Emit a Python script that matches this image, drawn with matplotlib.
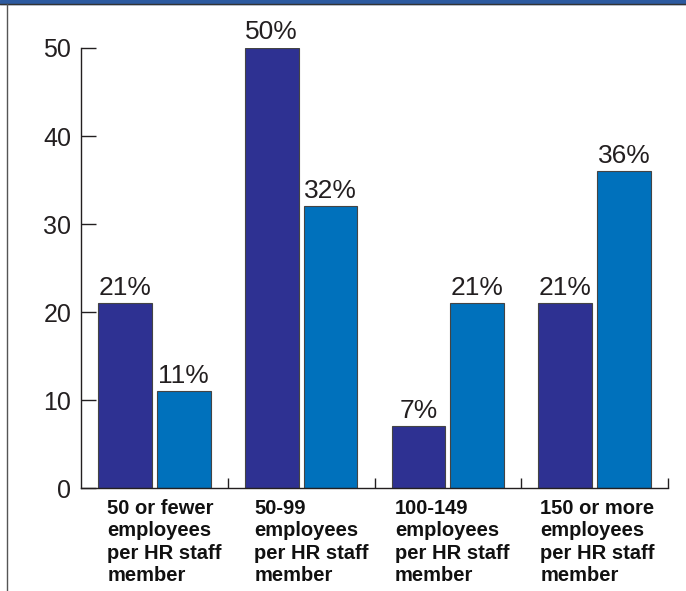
import numpy as np
import matplotlib.pyplot as plt
import matplotlib.transforms as mtransforms
from matplotlib.patches import Rectangle
from matplotlib.lines import Line2D

groups = ['50 or fewer\nemployees\nper HR staff\nmember',
          '50-99\nemployees\nper HR staff\nmember',
          '100-149\nemployees\nper HR staff\nmember',
          '150 or more\nemployees\nper HR staff\nmember']
series_a = [21, 50, 7, 21]     # dark bars
series_b = [11, 32, 21, 36]    # light bars
yticks = [0, 10, 20, 30, 40, 50]

plt.rcParams['font.family'] = ['Liberation Sans', 'DejaVu Sans']

fig = plt.figure(figsize=(6.86, 5.91), dpi=100)
ax = fig.add_axes([81/686, 1-488/591, (668-81)/686, (488-48)/591])

x = np.arange(len(groups))
w = 0.365
b1 = ax.bar(x - 0.2, series_a, w, color='#2E3192', edgecolor='#444444', linewidth=0.8)
b2 = ax.bar(x + 0.2, series_b, w, color='#0071BC', edgecolor='#444444', linewidth=0.8)

for bars, vals in ((b1, series_a), (b2, series_b)):
    for r, v in zip(bars, vals):
        ax.text(r.get_x() + r.get_width()/2, v + 0.4, f'{v}%', ha='center', va='bottom',
                fontsize=19, color='#231f20', clip_on=False)

ax.set_xlim(-0.5, 3.5)
ax.set_ylim(0, 50)
ax.set_yticks(yticks)
ax.tick_params(axis='y', direction='in', length=10.5, width=1, pad=7, labelsize=18,
               labelcolor='#231f20', color='#231f20')
ax.set_xticks(list(x + 0.5))
ax.set_xticklabels([])
ax.tick_params(axis='x', direction='in', length=7, width=1, color='#231f20')
for s in ['top', 'right']:
    ax.spines[s].set_visible(False)
for s in ['left', 'bottom']:
    ax.spines[s].set_color('#231f20')
    ax.spines[s].set_linewidth(1)

# group labels, left aligned under each pair
trans = mtransforms.blended_transform_factory(ax.transData, ax.transAxes)
offsets = [-0.32, -0.32, -0.36, -0.37]
for i, g in enumerate(groups):
    ax.text(i + offsets[i], -0.025, g, transform=trans, ha='left', va='top',
            fontsize=14.5, fontweight='bold', color='#111111', linespacing=1.22)

# frame: blue band on top and thin grey line on the left
fig.patches.append(Rectangle((0, 1-4/591), 1, 4/591, transform=fig.transFigure,
                             color='#2C5AA0', zorder=0))
fig.lines.append(Line2D([0, 1], [1-4/591, 1-4/591], transform=fig.transFigure,
                        color='#333333', linewidth=1))
fig.lines.append(Line2D([7/686, 7/686], [0, 1-4/591], transform=fig.transFigure,
                        color='#555555', linewidth=1))

fig.savefig('out.png', dpi=100)
